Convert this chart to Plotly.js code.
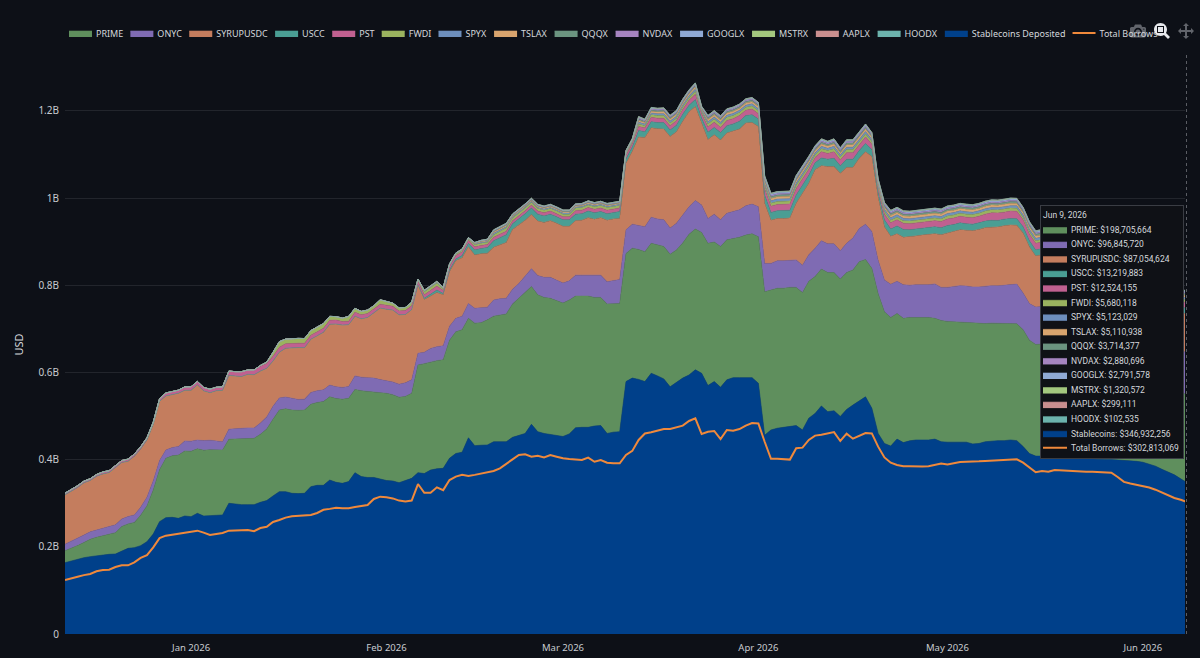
<!DOCTYPE html>
<html><head><meta charset="utf-8">
<script src="https://cdn.plot.ly/plotly-3.0.1.min.js"></script>
<style>html,body{margin:0;padding:0;background:#0d1017}#chart{width:1200px;height:658px}#chart .modebar{margin-top:17px}</style>
</head><body><div id="chart"></div>
<script>
// All series in millions of USD, daily, 13 Dec 2025 to 9 Jun 2026
const firstDate = '2025-12-13';
const tickDates = ['2026-01-02','2026-02-02','2026-03-02','2026-04-02','2026-05-02','2026-06-02'];
const tickLabels = ['Jan 2026','Feb 2026','Mar 2026','Apr 2026','May 2026','Jun 2026'];
const yTickVals = [0,2e8,4e8,6e8,8e8,1e9,1.2e9];
const yTickLabels = ['0','0.2B','0.4B','0.6B','0.8B','1B','1.2B'];

const STABLE = [
163.6,167.5,169.8,175,177.4,179.7,182,182.8,183.5,189.6,
196.5,198,202.6,211.8,229.4,257.7,266.9,267.6,265.3,270.7,
269.2,276.8,270.7,271.5,273,273,299.8,298,296.7,296.7,
296.7,302,306,316.6,326.5,326.5,322.7,322,322.7,338,
341,341,353,348,345.6,349.5,370,361,359,359,
355.5,352,351,347,352,357,370,368,376,379,
380,403,414,417,450,432,433,433.5,441,441,
441,451,456,460,481,464,460,458,455,453,
459,473,474,474,477,478,460,463,464,579,
587,584,579,598,592,585,567,577,587,594,
606,598,570,579,566,583,588,588,588,588,
575,456,468,472,474,476,478,468,495,506,
523,510,512,499,515,525,535,544,518,460,
437,431,447,439,443,445,445,445,447,441,
440,440,440,440,436,437,441,443,443.5,443.5,
445,443.5,430,414,408,408,406,404,404,403,
403,402,402,401,401,400,400,399,399,398,
396,394,390,385,378,372,365,356,346.932256];
const PRIME = [
27.5,29,33,35,40,42,43,46,49,57,
56,58,70,82,101,119,136,141,145,149,
150,148,151,151,149,149,147,149,151,152,
152,156,164,176,187,190,191,191,191,189,
190,192,191,192,193,191,191,197,198,197,
198,200,198,196,193,195,247,252,248,248,
249,271,279,281,274,281,281,287,288,291,
293,306,314,323,316,314,312,312,310,306,
307,302,301,301,295,294,297,295,294,294,
298,298,298,298,300,304,304,304,310,323,
323,323,326,320,323,321,319,322,327,330,
336,329,321,321,319,319,317,315,314,314,
314,319,317,315,314,310,319,315,321,321,
302,295,288,285,283,281,281,281,277,278,
277,276,275,275,277,275,271,270,269,269,
267,268,268,260,256,257,254,252,250,248,
246,244,242,240,238,236,234,232,230,228,
226,224,220,216,212,209,206,203,198.705664];
const ONYC = [
15,16,17,17,17,17,18,18,18,17,
17,17,18,20,21,21,19,19,20,23,
23,20,22,22,20,19,23,23,24,24,
24,26,28,30,28,27,27,25,25,27,
27,27,27,27,27,27,31,31,31,31,
30,29,29,30,31,31,27,26,31,32,
32,32,31,31,34,34,34,29,37,37,
36,34,34,38,41,44,46,48,47,46,
44,48,48,48,51,51,51,53,55,54,
55,55,57,60,60,61,60,61,65,63,
65,63,57,64,61,61,62,63,67,68,
69,65,61,63,63,62,63,63,61,65,
65,66,66,65,67,73,76,81,84,76,
73,76,74,77,74,75,75,75,79,76,
78,81,84,83,83,84,86,86,86,87,
89,91,84,84,86,86,86,87,87,87,
88,88,88,89,89,89,90,90,90,91,
91,92,92,93,94,95,96,96,96.84572];
const SYRUPUSDC = [
113,114.5,116.4,119.7,117.8,123.2,124.2,123.4,130.5,129.8,
126.6,134.8,134,131.4,129.6,136,124,122.2,122,116.2,
117,126.6,114,109,116,118,123.4,121.7,119,123,
122,119,111.5,103.5,105,112,116,119,118,122,
126,132,139.5,144,143,142,137,134,138,149,
164,164,165,159,157,161,157,121,120,124,
117,125,132,134,130,122,124,124,121,123,
128,137,134,128,124,125,126,130,130,130,
125,125,126,132,128,132,141,141,140,153,
167,203,205,205,207,208,210,210,214,218,
216,187,181,182,183,184,184,185,190,187,
184,138,99,97,97,97,130,165,164,180,
172,177,177,178,174,162,161,166,172,145,
122,110,109,109,111,112,114,116,115,121,
125,126,128,128,129,132,134,134,135,137,
137,135,138,130,117,119,117,116,115,114,
113,112,111,110,109,108,107,106,105,104,
103,101,99,97,95,93,91,89,87.054624];
const USCC = [
0,0,0,0,0,0,0,0,0,0,
0,0,0,0,0,0,0,0,0,0,
0,0,0,0,0,0,0,0,0,0,
0,0,0,0,0,0,0,0,0,0,
0,0,0,0,0,0,0,0,0,0,
0,0,0,0,0,0,0,3,5,6,
3,4,4,5,8,12,12,13,15,17,
18,13,14,15,15,16,15,15,15,15,
15,15,15,15,15,14,15,15,16,10,
10,15,13,14,14,15,15,15,16,15,
16,12,17,17,17,17,17,18,17,18,
17,19,18,18,18,18,19,18,18,16,
18,17,19,17,19,19,18,19,16,11,
16,17,18,18,16,16,16,16,16,16,
17,16,16,15,15,15,15,16,15,15,
15,15,14,14,14,14,14,14,14,14,
14,14,14,14,14,14,14,14,14,14,
14,14,14,14,14,14,13,13,13.219883];
const PST = [
4,4,4,4,4,4,4.5,4.5,4.5,4.5,
5,5,5,5,5,6,7,7,7,8,
8,8,8,8,8,8,10,10,11,10,
11,11,11,11,11,10,10,10,10,9,
9,9,9,9,8,8,9,9,9,9,
9,9,9,9,9,9,8,8,8,9,
7,8,8,8,7,7,7,7,8,8,
8,7,7,7,7,7,7,7,7,7,
7,8,8,8,8,8,8,8,8,8,
8,9,9,10,10,10,10,10,11,11,
12,10,12,12,12,12,12,13,12,13,
12,14,14,14,14,14,15,14,14,12,
14,13,15,13,15,15,14,15,13,9,
13,14,14,14,14,14,14,14,14,14,
15,15,15,15,15,15,16,17,17,16,
17,17,16,15,15,15,15,15,15,15,
15,15,15,15,15,15,15,15,15,14,
14,14,14,13,13,13,13,13,12.524155];
const FWDI = [
0,0,0,0,0,0,0,0,0,0,
0,0,0,0,0,0,0,0,0,0,
0,0,0,0,0,0,0,0,0,0,
0,2,3,9,13,11,11,11,11,11,
11,11,9,8,8,11,9,8,8,8,
10,9,7,7,7,8,5,7,7,7,
4,3,3,4,3,5,5,5,6,7,
7,6,6,6,6,6,6,6,6,6,
6,6,6,6,6,6,6,6,6,4,
4,6,5,6,6,6,6,6,6,6,
7,5,7,7,7,7,7,7,7,7,
7,7,7,7,7,7,7,7,7,6,
7,7,7,7,7,7,7,7,6,5,
6,6,6,6,6,6,6,6,6,6,
7,7,7,7,7,7,7,7,7,7,
7,7,6,6,6,6,6,6,6,6,
6,6,6,6,6,6,6,6,6,6,
6,6,6,6,6,6,6,6,5.680118];
const SPYX = [
0,0,0,0,0,0,0,0,0,0,
0,0,0,0,0,0,0,0,0,0,
0,0,0,0,0,0,0,0,0,0,
0,0,0,0,0,0,0,0,0,0,
0,0,0,0,0,0,0,0,0,0,
0,0,0,0,0,0,0,1.5,1.5,1.5,
1,1,1,1,1,1.5,2,2,3,3,
3,2.5,2.5,2.5,2.5,2.5,2.5,2.5,2.5,2.5,
2.5,2.5,2.5,2.5,2.5,2.5,2.5,2.5,2.5,2,
2,4,3.5,4,4,4.5,4.5,4.5,4.5,4.5,
5,3,5,5,5,5,5,5,5,5,
5,5.5,5.5,5.5,5.5,5.5,5.5,5.5,5.5,5,
5.5,5,5.5,5,5.5,5.5,5.5,5.5,5,4,
5,5.5,5.5,5.5,5.5,5.5,5.5,5.5,5.5,5.5,
5.5,5.5,5.5,5.5,5.5,5.5,5.5,5.5,5.5,5.5,
5.5,5.5,5.5,5.5,5.5,5.5,5.5,5.4,5.4,5.4,
5.4,5.4,5.3,5.3,5.3,5.3,5.3,5.2,5.2,5.2,
5.2,5.2,5.2,5.1,5.1,5.1,5.1,5.1,5.123029];
const TSLAX = [
0,0,0,0,0,0,0,0,0,0,
0,0,0,0,0,0,0,0,0,0,
0,0,0,0,0,0,0,0,0,0,
0,0,0,0,0,0,0,0,0,0,
0,0,0,0,0,0,0,0,0,0,
0,0,0,0,0,0,0,1,1.5,1.5,
1,1,1,1,1,1.5,2,2,3,3,
3,2.5,2.5,2.5,2.5,2.5,2.5,2.5,2.5,2.5,
2.5,2.5,2.5,2.5,2.5,2.5,2.5,2.5,2.5,2,
2,4,3.5,4,4,4.5,4.5,4.5,4.5,4.5,
5,3,5,5,5,5,5,5,5,5,
5,5.5,5.5,5.5,5.5,5.5,5.5,5.5,5.5,5,
5.5,5,5.5,5,5.5,5.5,5.5,5.5,5,4,
5,5.5,5.5,5.5,5.5,5.5,5.5,5.5,5.5,5.5,
5.5,5.5,5.5,5.5,5.5,5.5,5.5,5.5,5.5,5.5,
5.5,5.5,5.5,5.5,5.5,5.5,5.4,5.4,5.4,5.4,
5.4,5.3,5.3,5.3,5.3,5.2,5.2,5.2,5.2,5.2,
5.2,5.2,5.1,5.1,5.1,5.1,5.1,5.1,5.110938];
const QQQX = [
0,0,0,0,0,0,0,0,0,0,
0,0,0,0,0,0,0,0,0,0,
0,0,0,0,0,0,0,0,0,0,
0,0,0,0,0,0,0,0,0,0,
0,0,0,0,0,0,0,0,0,0,
0,0,0,0,0,0,0,.5,.5,.5,
.5,.5,.5,.5,.5,1,1,1,2,2,
2,1.5,1.5,1.5,1.5,1.5,1.5,1.5,1.5,1.5,
1.5,1.5,1.5,1.5,1.5,1.5,1.5,1.5,1.5,1,
1,3,2.5,3,3,3,3,3,3,3,
3,2,3.5,3.5,3.5,3.5,3.5,3.5,3.5,3.5,
3.5,4,4,4,4,4,4,4,4,3.5,
4,3.5,4,3.5,4,4,4,4,3.5,3,
3.5,4,4,4,4,4,4,4,4,4,
4,4,4,4,4,4,4,4,4,4,
4,4,4,4,4,4,4,3.9,3.9,3.9,
3.9,3.9,3.9,3.9,3.9,3.8,3.8,3.8,3.8,3.8,
3.8,3.8,3.8,3.8,3.8,3.8,3.8,3.7,3.714377];
const NVDAX = [
0,0,0,0,0,0,0,0,0,0,
0,0,0,0,0,0,0,0,0,0,
0,0,0,0,0,0,0,0,0,0,
0,0,0,0,0,0,0,0,0,0,
0,0,0,0,0,0,0,0,0,0,
0,0,0,0,0,0,0,.5,.5,.5,
.5,.5,.5,.5,.5,.5,1,1,1.5,1.5,
1.5,1.5,1.5,1.5,1.5,1.5,1.5,1.5,1.5,1.5,
1.5,1.5,1.5,1.5,1.5,1.5,1.5,1.5,1.5,1,
1,2.5,2,2.5,2.5,2.5,2.5,2.5,2.5,2.5,
2.5,1.5,2.5,2.5,2.5,2.5,2.5,2.5,2.5,2.5,
2.5,3,3,3,3,3,3,3,3,2.5,
3,3,3,3,3,3,3,3,2.5,2,
2.5,3,3,3,3,3,3,3,3,3,
3,3,3,3,3,3,3,3,3,3,
3,3,3,3,3,3,3,3,3,3,
3,3,3,3,3,3,3,3,3,3,
3,3,3,2.9,2.9,2.9,2.9,2.9,2.880696];
const GOOGLX = [
0,0,0,0,0,0,0,0,0,0,
0,0,0,0,0,0,0,0,0,0,
0,0,0,0,0,0,0,0,0,0,
0,0,0,0,0,0,0,0,0,0,
0,0,0,0,0,0,0,0,0,0,
0,0,0,0,0,0,0,0,0,0,
0,0,0,0,.3,.5,1,1,1,1,
1,1,1,1,1,1,1,1,1,1,
1,1,1,1,1,1,1,1,1,.8,
.8,2,2,2,2,2,2,2,2,2,
2.2,1.5,2.2,2.2,2.2,2.2,2.2,2.2,2.2,2.2,
2.2,3,3,3,3,3,3,3,3,3,
3,3,3,3,3,3,3,3,2.5,2,
2.8,3,3,3,3,3,3,3,3,3,
3,3,3,3,3,3,3,3,3,3,
3,3,3,3,3,3,3,3,3,3,
3,3,3,3,3,3,3,3,3,3,
3,2.9,2.9,2.9,2.8,2.8,2.8,2.8,2.791578];
const MSTRX = [
0,0,0,0,0,0,0,0,0,0,
0,0,0,0,0,0,0,0,0,0,
0,0,0,0,0,0,0,0,0,0,
0,0,0,0,0,0,0,0,0,0,
0,0,0,0,0,0,0,0,0,0,
0,0,0,0,0,0,0,0,0,0,
0,0,0,0,0,0,0,0,.5,.5,
.5,.5,.5,.5,.5,.5,.5,.5,.5,.5,
.5,.5,.5,.5,.5,.5,.5,.5,.5,.5,
.5,1,1,1,1,1,1,1,1,1,
1,1,1,1,1,1,1,1,1,1,
1,1.4,1.4,1.4,1.4,1.4,1.4,1.4,1.4,1.4,
1.4,1.4,1.4,1.4,1.4,1.4,1.4,1.4,1.4,1.4,
1.4,1.4,1.4,1.4,1.4,1.4,1.4,1.4,1.4,1.4,
1.4,1.4,1.4,1.4,1.4,1.4,1.4,1.4,1.4,1.4,
1.4,1.4,1.4,1.4,1.4,1.4,1.4,1.4,1.4,1.4,
1.4,1.4,1.4,1.4,1.4,1.4,1.4,1.4,1.4,1.4,
1.4,1.4,1.4,1.3,1.3,1.3,1.3,1.3,1.320572];
const AAPLX = [
0,0,0,0,0,0,0,0,0,0,
0,0,0,0,0,0,0,0,0,0,
0,0,0,0,0,0,0,0,0,0,
0,0,0,0,0,0,0,0,0,0,
0,0,0,0,0,0,0,0,0,0,
0,0,0,0,0,0,0,0,0,0,
0,0,0,0,0,0,0,0,0,0,
0,0,0,0,0,0,0,0,0,0,
0,0,0,0,0,0,0,0,0,0,
0,.3,.3,.3,.3,.3,.3,.3,.3,.3,
.3,.3,.3,.3,.3,.3,.3,.3,.3,.3,
.3,.3,.3,.3,.3,.3,.3,.3,.3,.3,
.3,.3,.3,.3,.3,.3,.3,.3,.3,.3,
.3,.3,.3,.3,.3,.3,.3,.3,.3,.3,
.3,.3,.3,.3,.3,.3,.3,.3,.3,.3,
.3,.3,.3,.3,.3,.3,.3,.3,.3,.3,
.3,.3,.3,.3,.3,.3,.3,.3,.3,.3,
.3,.3,.3,.3,.3,.3,.3,.3,.299111];
const HOODX = [
0,0,0,0,0,0,0,0,0,0,
0,0,0,0,0,0,0,0,0,0,
0,0,0,0,0,0,0,0,0,0,
0,0,0,0,0,0,0,0,0,0,
0,0,0,0,0,0,0,0,0,0,
0,0,0,0,0,0,0,0,0,0,
0,0,0,0,0,0,0,0,0,0,
0,0,0,0,0,0,0,0,0,0,
0,0,0,0,0,0,0,0,0,0,
0,.1,.1,.1,.1,.1,.1,.1,.1,.1,
.1,.1,.1,.1,.1,.1,.1,.1,.1,.1,
.1,.1,.1,.1,.1,.1,.1,.1,.1,.1,
.1,.1,.1,.1,.1,.1,.1,.1,.1,.1,
.1,.1,.1,.1,.1,.1,.1,.1,.1,.1,
.1,.1,.1,.1,.1,.1,.1,.1,.1,.1,
.1,.1,.1,.1,.1,.1,.1,.1,.1,.1,
.1,.1,.1,.1,.1,.1,.1,.1,.1,.1,
.1,.1,.1,.1,.1,.1,.1,.1,.102535];
const BORROWS = [
124,127,131.5,135,137.6,143.8,146.8,147.6,153.7,157.5,
157.5,164.4,174.4,181,198.8,220,225.6,227.9,230,232.5,
234.8,237,232.5,227,229.4,231.7,237,237,237.8,238.6,
236,243,246,257,261.5,267,270,270.7,270.7,273,
277.6,285,287,289.8,288.3,288.3,291.4,293.6,296,309.7,
315,313.5,311,306,304,306,344,324,324,336.4,
330,353,361,365,362.4,365,368.5,371,374,380,
391.4,400.6,410.6,412,406.7,409,405,410.6,406.7,403,
401.4,400.6,399,404.4,395,399,393,391.5,391.5,410.6,
420,445,460,462.6,465.6,470,470,474,478,488.6,
494.7,458.7,464,465.6,447,468,466.4,470,478,484,
483,441,402,402,400.6,400,426,427.4,445,455,
457,460,463,442.7,459.5,448,454,461,460,429.7,
405,393,387.6,385,384.6,384,384,384.6,387,391,
389,392,394.5,395,395,396,397,397.5,399,400,
400.6,400.6,393,382,371,374,372,376,375,374,
373,373,372,372,371,371,370,360,349,345,
342,340,336,331,325,318,312,308,302.813069];

const stackNames = ['Stablecoins Deposited','PRIME','ONYC','SYRUPUSDC','USCC','PST','FWDI','SPYX','TSLAX','QQQX','NVDAX','GOOGLX','MSTRX','AAPLX','HOODX'];
const hoverNames = ['Stablecoins','PRIME','ONYC','SYRUPUSDC','USCC','PST','FWDI','SPYX','TSLAX','QQQX','NVDAX','GOOGLX','MSTRX','AAPLX','HOODX'];
const stackValues = [STABLE,PRIME,ONYC,SYRUPUSDC,USCC,PST,FWDI,SPYX,TSLAX,QQQX,NVDAX,GOOGLX,MSTRX,AAPLX,HOODX];
const stackColors = ['#00408a','#5f8f5d','#7f6bb3','#c47d5e','#4a9e94','#c06090','#9ab35f','#6d8fbd','#d8a46e','#6b9480','#a584c0','#8fa9d4','#a3c77e','#c98f8f','#6cb3ad'];
const stackRanks = [1500,100,200,300,400,500,600,700,800,900,1000,1100,1200,1300,1400];

const dates = BORROWS.map((_, i) => new Date(Date.parse(firstDate + 'T00:00:00Z') + i * 864e5).toISOString().slice(0, 10));
const usd = a => a.map(v => v * 1e6);

const traces = stackValues.map((vals, k) => ({
  type: 'scatter', mode: 'lines', x: dates, y: usd(vals), name: stackNames[k],
  stackgroup: 'one', fillcolor: stackColors[k],
  line: {color: stackColors[k], width: 0.6},
  legendrank: stackRanks[k],
  hovertemplate: hoverNames[k] + ': $%{y:,.0f}<extra></extra>'
}));
traces.push({
  type: 'scatter', mode: 'lines', x: dates, y: usd(BORROWS), name: 'Total Borrows',
  line: {color: '#f0893b', width: 2}, legendrank: 1600,
  hovertemplate: 'Total Borrows: $%{y:,.0f}<extra></extra>'
});

const font = 'Noto Sans, sans-serif';
const layout = {
  width: 1200, height: 658,
  paper_bgcolor: '#0d1017', plot_bgcolor: '#0d1017',
  font: {family: font, size: 10, color: '#d4d7dc'},
  margin: {l: 65, r: 13, t: 55, b: 24, autoexpand: false},
  showlegend: true,
  legend: {orientation: 'h', x: 0, xanchor: 'left', y: 1.02, yanchor: 'bottom', traceorder: 'normal',
           font: {size: 9, color: '#d4d7dc'}, bgcolor: 'rgba(0,0,0,0)'},
  hovermode: 'x unified',
  hoverlabel: {bgcolor: '#0f1116', bordercolor: '#3a3d44', font: {family: 'Roboto, sans-serif', size: 8.5, color: '#d4d7dc'}},
  dragmode: 'zoom',
  modebar: {bgcolor: 'rgba(0,0,0,0)', color: 'rgba(200,205,210,0.45)', activecolor: '#e6e8ec', orientation: 'h'},
  xaxis: {type: 'date', range: [dates[0], dates[dates.length - 1]], tickvals: tickDates, ticktext: tickLabels,
          showgrid: false, zeroline: false, showline: false, ticks: '', ticklabelstandoff: 6, hoverformat: '%b %-d, %Y',
          showspikes: true, spikemode: 'across', spikedash: 'dot', spikethickness: 1, spikecolor: '#5a5d64', spikesnap: 'data',
          tickfont: {size: 9.5, color: '#c8cbd0'}},
  yaxis: {range: [0, 1.328e9], tickvals: yTickVals, ticktext: yTickLabels, showgrid: true, gridcolor: '#22252c', gridwidth: 1,
          zeroline: false, showline: false, ticks: '', ticklabelstandoff: 5, tickfont: {size: 10, color: '#c8cbd0'},
          title: {text: 'USD', font: {size: 11, color: '#d4d7dc'}, standoff: 12}}
};
const config = {displaylogo: false, displayModeBar: true, modeBarButtons: [['toImage','zoom2d','pan2d']]};
const gd = document.getElementById('chart');

function shortenSwatches(group, w) {
  group.querySelectorAll('.legendfill path, .legendlines path').forEach(p => {
    const d = p.getAttribute('d');
    if (d) p.setAttribute('d', d.replace(/h30/g, 'h' + w).replace(/h-30/g, 'h-' + w));
  });
}

// Lay the library's own legend entries out in one tight row, as in the reference.
function tightenLegend() {
  const legend = gd.querySelector('.infolayer .legend');
  if (!legend) return;
  legend.setAttribute('transform', 'translate(0,0)');
  const box = legend.querySelector('.scrollbox');
  box.setAttribute('transform', 'translate(0,0)');
  box.removeAttribute('clip-path');
  const swatchW = 23, textGap = 4, itemGap = 7.1;
  let cur = 69;
  legend.querySelectorAll('.traces').forEach(tr => {
    shortenSwatches(tr, swatchW);
    const t = tr.querySelector('text.legendtext');
    t.setAttribute('x', 5 + swatchW + textGap);
    tr.setAttribute('transform', 'translate(' + (cur - 5) + ',33)');
    cur += swatchW + textGap + t.getBBox().width + itemGap;
  });
}

// Place and tighten the library's unified hover box like the one in the reference.
function tightenHover() {
  const box = gd.querySelector('.hoverlayer .legend');
  if (!box) return false;
  const boxW = 143, boxH = 253, rowH = 14.55, firstRow = 24.5;
  box.setAttribute('transform', 'translate(1040,205)');
  const bg = box.querySelector('rect.bg');
  if (bg) { bg.setAttribute('x', 0); bg.setAttribute('y', 0); bg.setAttribute('width', boxW); bg.setAttribute('height', boxH); }
  const sb = box.querySelector('.scrollbox');
  if (sb) { sb.setAttribute('transform', 'translate(0,0)'); sb.removeAttribute('clip-path'); }
  const title = box.querySelector('.legendtitletext');
  if (title) { title.removeAttribute('transform'); title.setAttribute('x', 3); title.setAttribute('y', 13); }
  box.querySelectorAll('.traces').forEach((tr, k) => {
    shortenSwatches(tr, 24);
    const t = tr.querySelector('text.legendtext');
    if (t) t.setAttribute('x', 33);
    tr.setAttribute('transform', 'translate(-2,' + (firstRow + rowH * k) + ')');
  });
  return true;
}

Plotly.newPlot(gd, traces, layout, config).then(() => {
  tightenLegend();
  const lastMs = Date.parse(dates[dates.length - 1] + 'T00:00:00Z');
  Plotly.Fx.hover(gd, {xval: lastMs, yval: 8e8}, 'xy');
  if (!tightenHover()) setTimeout(() => { Plotly.Fx.hover(gd, {xval: lastMs, yval: 8e8}, 'xy'); tightenHover(); }, 120);
});
</script></body></html>
